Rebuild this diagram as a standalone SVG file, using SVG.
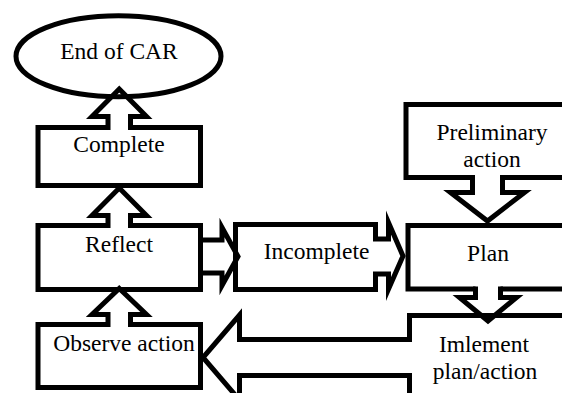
<svg xmlns="http://www.w3.org/2000/svg" width="562" height="393" viewBox="0 0 562 393">
<style>
.box{fill:#fff;stroke:#000;stroke-width:5;stroke-linejoin:miter}
.arr{fill:none;stroke:#000;stroke-width:5;stroke-linejoin:miter;stroke-miterlimit:10}
text{font-family:"Liberation Serif","Times New Roman",serif;font-size:23.5px;fill:#000;text-anchor:middle}
</style>
<rect width="562" height="393" fill="#fff"/>
<g id="end-of-car">
<ellipse class="box" cx="118.5" cy="56.3" rx="102.5" ry="40.5"/>
<text x="119" y="59">End of CAR</text>
</g>
<g id="complete">
<path class="box" d="M130.5,127.5 H200.5 V185.5 H38 V127.5 H108"/>
<text x="119" y="152">Complete</text>
</g>
<g id="reflect">
<path class="box" d="M130.5,225.5 H200.5 V289.5 H38 V225.5 H108"/>
<text x="119" y="252">Reflect</text>
</g>
<g id="observe-action">
<path class="box" d="M130.5,324.5 H200.5 V387.5 H38 V324.5 H108"/>
<text x="124" y="351">Observe action</text>
</g>
<g id="incomplete">
<path class="box" d="M375.5,274 V289.5 H235.5 V224.5 H375.5 V239"/>
<text x="316.5" y="259">Incomplete</text>
</g>
<g id="preliminary-action">
<path class="box" d="M472.5,177.5 H406 V104.5 H580 V177.5 H502.5"/>
<text x="492" y="140">Preliminary</text>
<text x="492" y="167">action</text>
</g>
<g id="plan">
<path class="box" d="M475.5,289 H408 V225.5 H580 V289 H500.5"/>
<text x="488" y="261">Plan</text>
</g>
<g id="implement">
<path class="box" d="M409.5,339.5 V315.5 H580 V420 H409.5 V375.5"/>
<text x="484" y="352">Imlement</text>
<text x="485" y="379">plan/action</text>
</g>
<g id="connectors">
<path class="arr" d="M108,130 V116.5 H92 L119.25,89 L146.5,116.5 H130.5 V130"/>
<path class="arr" d="M108,228 V215.5 H92 L119.25,188 L146.5,215.5 H130.5 V228"/>
<path class="arr" d="M108,327 V314.5 H92 L119.25,288.5 L146.5,314.5 H130.5 V327"/>
<path class="arr" d="M200.5,240 H222 V227.5 L238,256.5 L222,285.5 V273 H200.5"/>
<path class="arr" d="M373,239 H388.5 V222.5 L403,256 L388.5,289 V274 H373"/>
<path class="arr" d="M472.5,175 V192.5 H450.5 L487.5,221 L524.5,192.5 H502.5 V175"/>
<path class="arr" d="M475.5,286.5 V297.5 H459.5 L488,321 L516.5,297.5 H500.5 V286.5"/>
<path class="arr" d="M412,339.5 H239.5 V315 L203,357.5 L239.5,400 V375.5 H412"/>
</g>
</svg>
